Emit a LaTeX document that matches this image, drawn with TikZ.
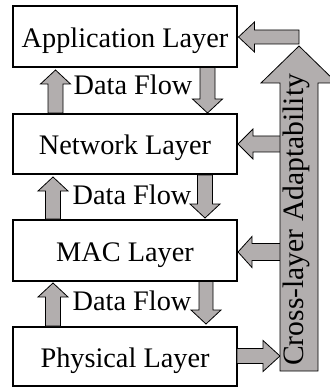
\documentclass[tikz,border=0pt]{standalone}
\usepackage{fontspec}
\setmainfont{Liberation Serif}
\definecolor{arrgray}{RGB}{178,174,174}
\tikzset{
  layerbox/.style={draw=black, line width=1.6pt, fill=white, minimum width=224pt, minimum height=60pt,
    inner sep=0pt, text height=28pt, text depth=6pt, font=\fontsize{28.3}{33}\selectfont},
  flowlabel/.style={anchor=base, inner sep=0pt, font=\fontsize{28.3}{33}\selectfont},
  barrow/.style={draw=black, line width=0.8pt, fill=arrgray, line join=miter},
}
% vertical block arrow: x, base y, tip y, shaft half width, head half width, signed head length
\newcommand{\myvarr}[6]{%
  \draw[barrow] ({#1-#4},{#2}) -- ({#1-#4},{#3+#6}) -- ({#1-#5},{#3+#6}) -- ({#1},{#3})
    -- ({#1+#5},{#3+#6}) -- ({#1+#4},{#3+#6}) -- ({#1+#4},{#2}) -- cycle;}
% horizontal block arrow: y, base x, tip x, shaft half width, head half width, signed head length
\newcommand{\myharr}[6]{%
  \draw[barrow] ({#2},{#1-#4}) -- ({#3+#6},{#1-#4}) -- ({#3+#6},{#1-#5}) -- ({#3},{#1})
    -- ({#3+#6},{#1+#5}) -- ({#3+#6},{#1+#4}) -- ({#2},{#1+#4}) -- cycle;}
\begin{document}
\begin{tikzpicture}[x=1pt,y=-1pt]
\useasboundingbox (0,0) rectangle (329,387);

% layer boxes
\node[layerbox, minimum height=61pt] (app) at (125,36.5) {Application Layer};
\node[layerbox] (net) at (125,144) {Network Layer};
\node[layerbox, minimum height=61pt] (mac) at (125,250.5) {MAC Layer};
\node[layerbox, minimum height=59pt] (phy) at (125,356.5) {Physical Layer};

% data flow arrows (up on the left, down on the right)
\myvarr{55.5}{113}{70}{7.5}{15}{14}
\myvarr{53}{219}{177}{7.5}{15}{14}
\myvarr{53}{326}{283}{7.5}{15}{14}
\myvarr{207.5}{67.5}{113}{7.5}{15}{-14}
\myvarr{205}{175}{218}{7.5}{15}{-14}
\myvarr{206}{281.5}{324}{7}{15}{-14}

\node[flowlabel] (df1) at (133,95) {Data Flow};
\node[flowlabel] (df2) at (132,204) {Data Flow};
\node[flowlabel] (df3) at (132,310) {Data Flow};

% cross-layer feedback arrows
\myharr{37}{299}{238.5}{7}{15}{16}
\myharr{144}{281}{238}{8}{15}{15}
\myharr{252}{281}{238}{8.5}{15.5}{14}
\myharr{356}{237}{280}{7.5}{15.5}{-17}

% big cross-layer arrow
\myvarr{299}{371}{46}{19}{38}{37}
\node[rotate=90, anchor=base west, inner sep=0pt, font=\fontsize{29.6}{35}\selectfont] (cla) at (303,366) {Cross-layer Adaptability};
\end{tikzpicture}
\end{document}
